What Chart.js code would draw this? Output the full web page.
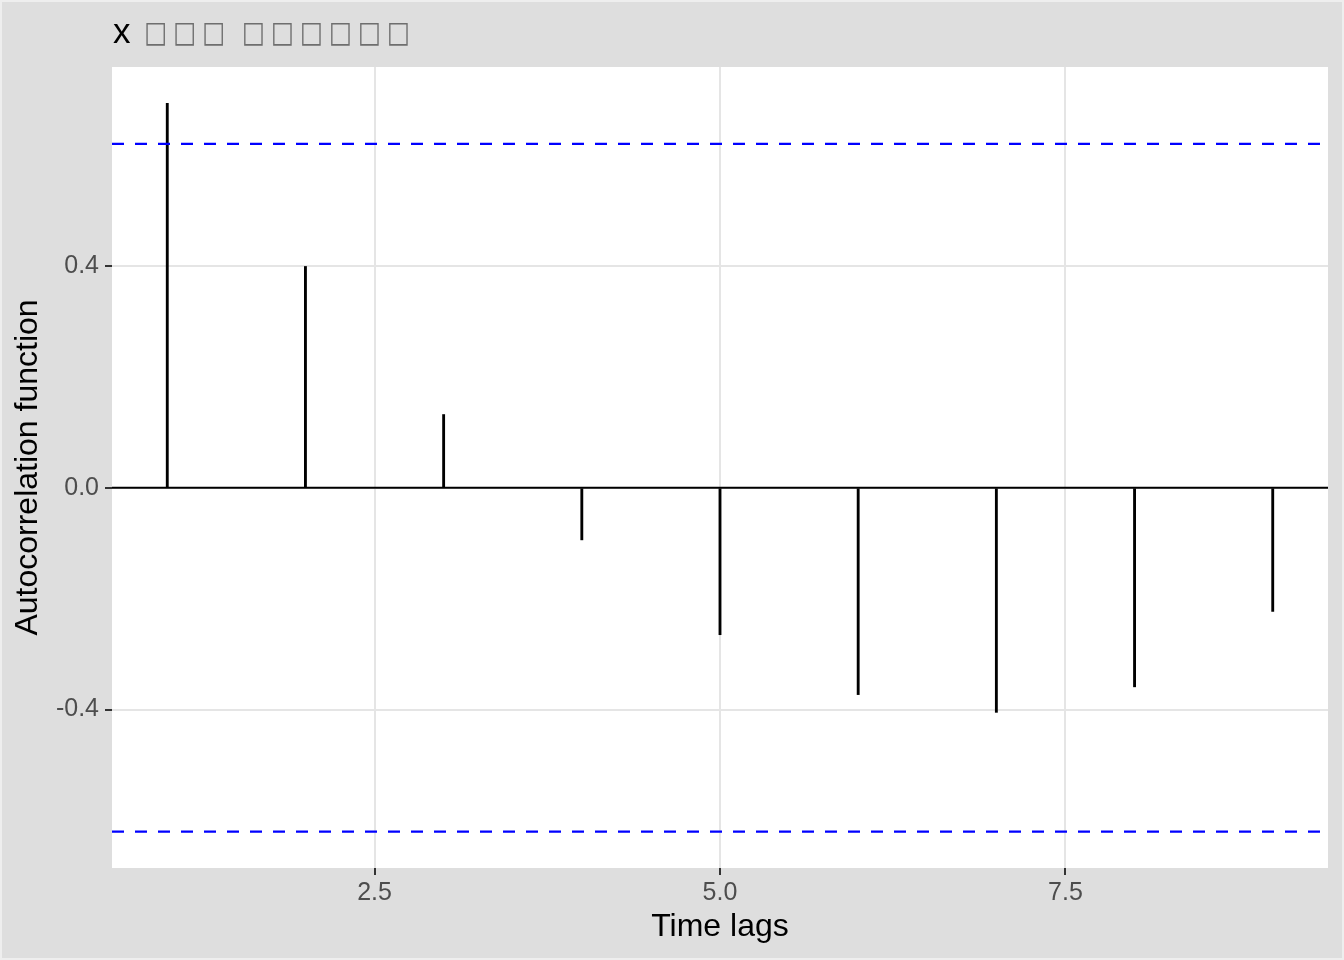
<!DOCTYPE html>
<html>
<head>
<meta charset="utf-8">
<script src="https://cdn.jsdelivr.net/npm/chart.js@4/dist/chart.umd.min.js"></script>
<style>
html,body{margin:0;padding:0;background:#DEDEDE;}
#wrap{width:1344px;height:960px;position:relative;}
</style>
</head>
<body>
<div id="wrap"><canvas id="c" width="1344" height="960"></canvas></div>
<script>
// ---- data ----
const titlePrefix = "x";
const titleRest = "□□□ □□□□□□";
const lags = [1, 2, 3, 4, 5, 6, 7, 8, 9];
const acfValues = [0.693, 0.399, 0.132, -0.094, -0.265, -0.373, -0.405, -0.359, -0.223];
const ciBound = 0.62;
const xTicks = [2.5, 5.0, 7.5];
const yTicks = [-0.4, 0.0, 0.4];
const xTitle = "Time lags";
const yTitle = "Autocorrelation function";

// ggplot-like 5% expansion
const xMinData = Math.min(...lags), xMaxData = Math.max(...lags);
const xPad = (xMaxData - xMinData) * 0.05;
const yLo = Math.min(-ciBound, ...acfValues), yHi = Math.max(ciBound, ...acfValues);
const yPad = (yHi - yLo) * 0.05;

const FONT = '"Liberation Sans", Arial, Helvetica, sans-serif';

const titlePlugin = {
  id: 'ggTitle',
  afterDraw(chart) {
    const ctx = chart.ctx;
    ctx.save();
    ctx.textBaseline = 'alphabetic';
    ctx.font = '35px ' + FONT;
    ctx.fillStyle = '#000';
    const x0 = chart.chartArea.left + 1;
    ctx.fillText(titlePrefix, x0, 43);
    let x = x0 + 32;
    ctx.font = '27px "DejaVu Sans", sans-serif';
    ctx.fillStyle = '#6e6e6e';
    for (const ch of titleRest) {
      if (ch === ' ') { x += 10.7; continue; }
      ctx.save();
      ctx.translate(x - 1, 42);
      ctx.scale(0.9, 1.1);
      ctx.fillText(ch, 0, 0);
      ctx.restore();
      x += 29;
    }
    ctx.restore();
  }
};

new Chart(document.getElementById('c'), {
  type: 'bar',
  data: {
    datasets: [
      {
        type: 'line',
        data: [{x: xMinData - xPad, y: ciBound}, {x: xMaxData + xPad, y: ciBound}],
        borderColor: '#0000FF', borderWidth: 2.2, borderDash: [12, 11],
        pointRadius: 0, fill: false, order: 1
      },
      {
        type: 'line',
        data: [{x: xMinData - xPad, y: -ciBound}, {x: xMaxData + xPad, y: -ciBound}],
        borderColor: '#0000FF', borderWidth: 2.2, borderDash: [12, 11],
        pointRadius: 0, fill: false, order: 1
      },
      {
        type: 'bar',
        data: lags.map((l, i) => ({x: l, y: acfValues[i]})),
        backgroundColor: '#000', borderWidth: 0,
        barThickness: 2.2, order: 2
      },
      {
        type: 'line',
        data: [{x: xMinData - xPad, y: 0}, {x: xMaxData + xPad, y: 0}],
        borderColor: '#000', borderWidth: 2.2,
        pointRadius: 0, fill: false, order: 0
      }
    ]
  },
  options: {
    responsive: false,
    animation: false,
    devicePixelRatio: 1,
    layout: {padding: {left: 0, right: 16, top: 67, bottom: 0}},
    plugins: {legend: {display: false}, tooltip: {enabled: false}, title: {display: false}},
    scales: {
      x: {
        type: 'linear',
        offset: false,
        min: xMinData - xPad, max: xMaxData + xPad,
        afterBuildTicks: s => { s.ticks = xTicks.map(v => ({value: v})); },
        afterFit: s => { s.height = 92; },
        ticks: {
          callback: v => Number(v).toFixed(1),
          color: '#4D4D4D', font: {family: FONT, size: 25},
          padding: 3, maxRotation: 0, autoSkip: false
        },
        grid: {offset: false, color: '#E5E5E5', lineWidth: 2, tickColor: '#333333', tickLength: 7, tickWidth: 2},
        border: {display: false},
        title: {display: true, text: xTitle, color: '#000',
          font: {family: FONT, size: 32}, padding: {top: 0, bottom: 14}}
      },
      y: {
        type: 'linear',
        min: yLo - yPad, max: yHi + yPad,
        afterBuildTicks: s => { s.ticks = yTicks.map(v => ({value: v})); },
        afterFit: s => { s.width = 112; },
        ticks: {
          callback: v => Number(v).toFixed(1),
          color: '#4D4D4D', font: {family: FONT, size: 25},
          padding: 6
        },
        grid: {color: '#E5E5E5', lineWidth: 2, tickColor: '#333333', tickLength: 7, tickWidth: 2},
        border: {display: false},
        title: {display: true, text: yTitle, color: '#000',
          font: {family: FONT, size: 32}, padding: {top: 9, bottom: 0}}
      }
    }
  },
  plugins: [{
    id: 'panelBg',
    beforeDraw(chart) {
      const {ctx, chartArea: a} = chart;
      ctx.save();
      ctx.fillStyle = '#DEDEDE';
      ctx.fillRect(0, 0, chart.width, chart.height);
      ctx.strokeStyle = '#EEEEEE';
      ctx.lineWidth = 4;
      ctx.strokeRect(0, 0, chart.width, chart.height);
      ctx.fillStyle = '#FFFFFF';
      ctx.fillRect(a.left, a.top, a.right - a.left, a.bottom - a.top);
      ctx.restore();
    }
  }, titlePlugin]
});
</script>
</body>
</html>
